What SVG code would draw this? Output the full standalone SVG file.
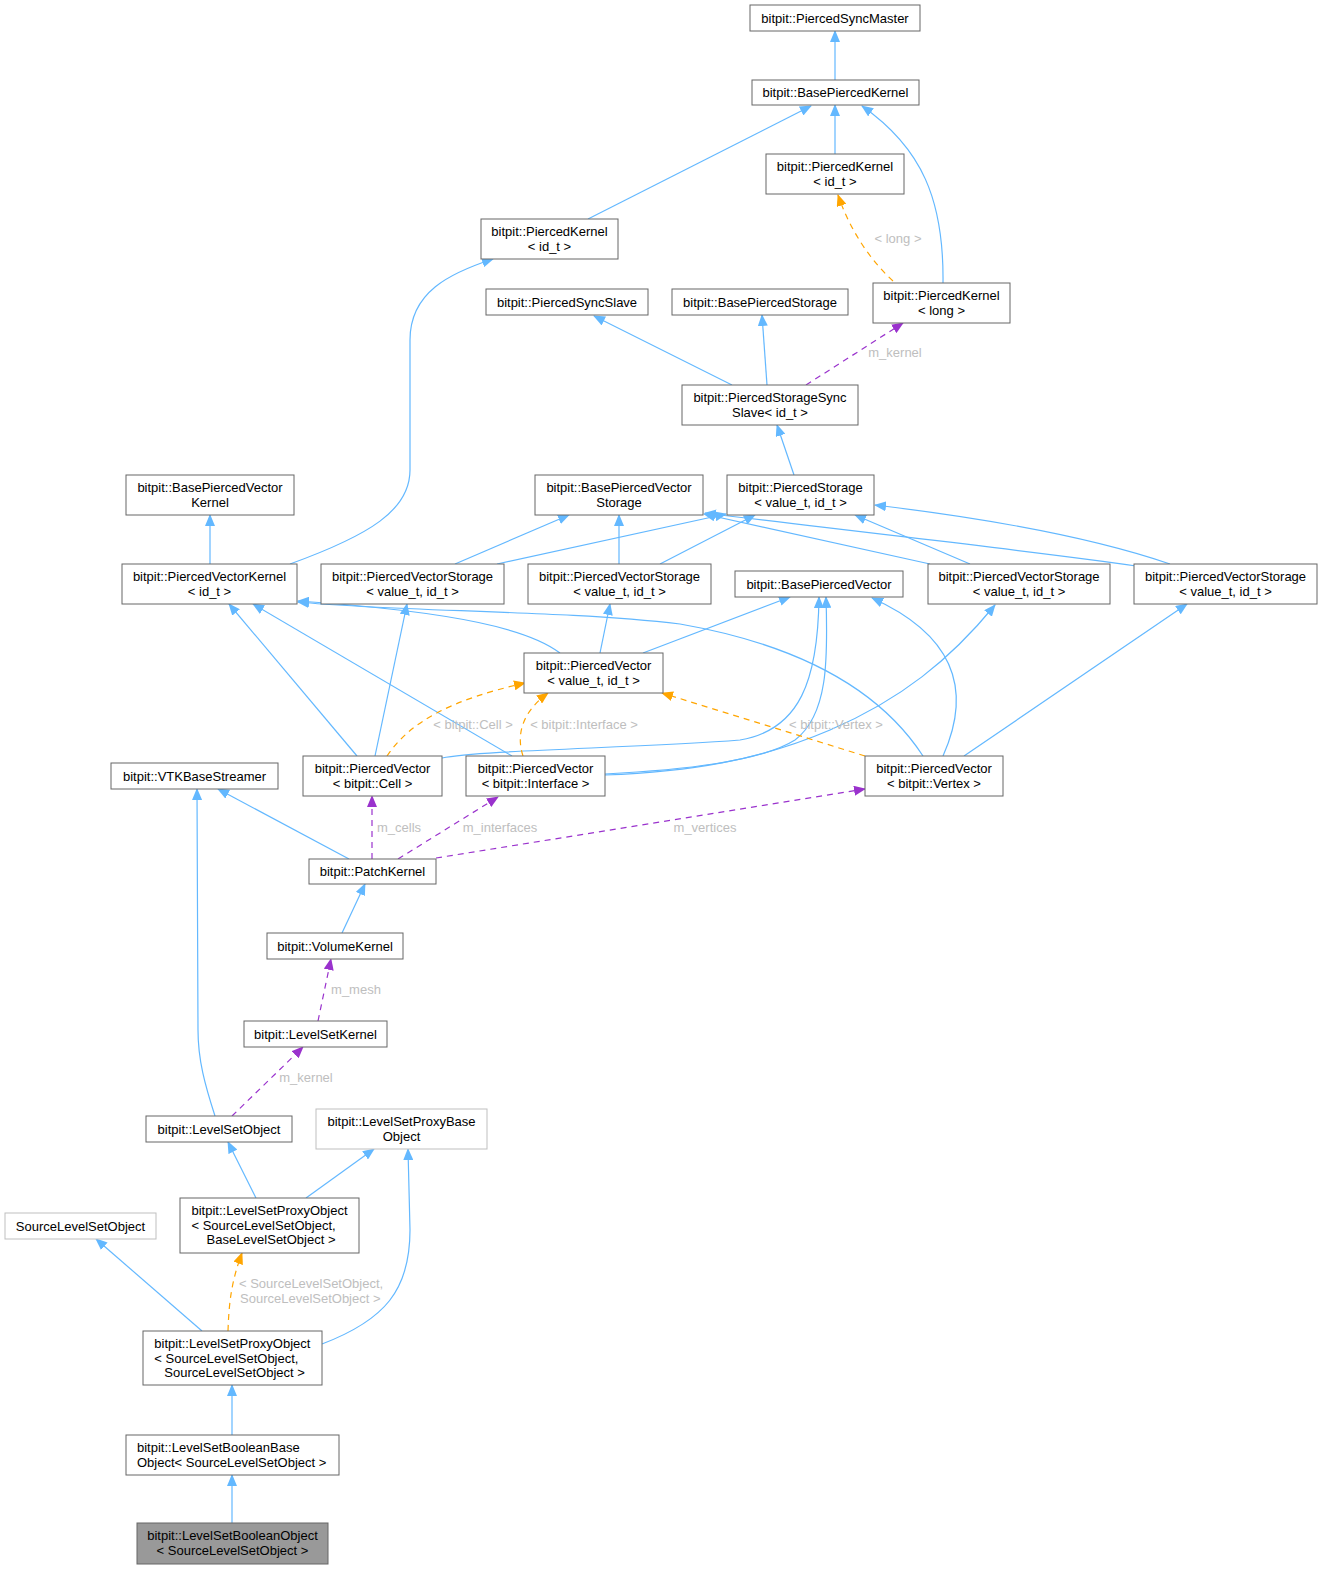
<svg xmlns="http://www.w3.org/2000/svg" width="1323" height="1569" viewBox="0 0 1323 1569">
<style>
.node rect{fill:#ffffff;stroke:#666666;stroke-width:1}
.node.undoc rect{stroke:#bfbfbf}
.node.target rect{fill:#999999;stroke:#666666}
.node text{font-family:"Liberation Sans",Arial,Helvetica,sans-serif;font-size:13px;fill:#000000}
.c{text-anchor:middle}
.l{text-anchor:start}
.e{fill:none;stroke-width:1.2}
.b{stroke:#63b8ff;marker-end:url(#ab)}
.o{stroke:#ffa500;stroke-dasharray:6,5;marker-end:url(#ao)}
.p{stroke:#9a32cd;stroke-dasharray:6,5;marker-end:url(#ap)}
.lab{font-family:"Liberation Sans",Arial,Helvetica,sans-serif;font-size:13px;fill:#bebebe}
</style>
<defs>
<marker id="ab" viewBox="0 0 12 10" refX="11" refY="5" markerWidth="12" markerHeight="10" markerUnits="userSpaceOnUse" orient="auto"><path d="M0,0 L12,5 L0,10 z" fill="#63b8ff"/></marker>
<marker id="ao" viewBox="0 0 12 10" refX="11" refY="5" markerWidth="12" markerHeight="10" markerUnits="userSpaceOnUse" orient="auto"><path d="M0,0 L12,5 L0,10 z" fill="#ffa500"/></marker>
<marker id="ap" viewBox="0 0 12 10" refX="11" refY="5" markerWidth="12" markerHeight="10" markerUnits="userSpaceOnUse" orient="auto"><path d="M0,0 L12,5 L0,10 z" fill="#9a32cd"/></marker>
</defs>
<rect x="0" y="0" width="1323" height="1569" fill="#ffffff"/>
<g id="edges">
<path class="e b" d="M835,80 L835,31"/>
<path class="e b" d="M835,154 L835,105"/>
<path class="e b" d="M588,219 L811,106"/>
<path class="e b" d="M943,283 C944,200 922,148 862,106"/>
<path class="e b" d="M732,385 L594,316"/>
<path class="e b" d="M767,385 L762,315"/>
<path class="e b" d="M794,475 L777,425"/>
<path class="e o" d="M893,281 C870,260 850,230 838,195"/>
<path class="e p" d="M806,385 L903,323"/>
<path class="e b" d="M210,564 L210,515"/>
<path class="e b" d="M290,564 C370,535 410,510 410,470 L410,340 C410,292 450,273 493,259"/>
<path class="e b" d="M455,564 L569,515"/>
<path class="e b" d="M497,564 L726,514"/>
<path class="e b" d="M619,564 L619,515"/>
<path class="e b" d="M660,564 L755,515"/>
<path class="e b" d="M930,564 L704,514"/>
<path class="e b" d="M970,564 L855,515"/>
<path class="e b" d="M1136,566 C1050,553 900,537 705,513"/>
<path class="e b" d="M1170,564 C1100,540 1000,520 875,505"/>
<path class="e b" d="M600,653 L610,604"/>
<path class="e b" d="M643,653 L790,597"/>
<path class="e b" d="M560,653 C530,630 460,612 298,601"/>
<path class="e b" d="M357,756 L229,604"/>
<path class="e b" d="M375,756 L407,604"/>
<path class="e b" d="M442,758 C480,750 640,748 740,740 C800,730 818,680 819,597"/>
<path class="e b" d="M512,756 L253,604"/>
<path class="e b" d="M605,774 C680,770 760,762 795,740 C828,715 828,660 826,597"/>
<path class="e b" d="M605,775 C690,772 760,760 830,730 C900,700 950,660 995,605"/>
<path class="e b" d="M923,756 C880,690 800,645 680,624 C560,610 400,612 298,602"/>
<path class="e b" d="M943,756 C968,700 965,640 872,598"/>
<path class="e b" d="M964,756 L1187,604"/>
<path class="e o" d="M865,756 L662,693"/>
<path class="e o" d="M387,756 C410,722 450,700 525,683"/>
<path class="e o" d="M523,756 C516,735 522,712 548,693"/>
<path class="e b" d="M349,859 L218,789"/>
<path class="e p" d="M372,859 L372,796"/>
<path class="e p" d="M398,859 L498,797"/>
<path class="e p" d="M436,858 L865,789"/>
<path class="e b" d="M342,933 L365,884"/>
<path class="e p" d="M318,1021 L331,959"/>
<path class="e p" d="M232,1116 L303,1047"/>
<path class="e b" d="M215,1116 C205,1085 198,1060 198,1030 L197,789"/>
<path class="e b" d="M256,1198 L228,1142"/>
<path class="e b" d="M306,1198 L374,1149"/>
<path class="e b" d="M322,1344 C385,1320 410,1290 410,1230 L408,1149"/>
<path class="e b" d="M202,1331 L96,1239"/>
<path class="e o" d="M228,1331 C229,1300 232,1280 242,1253"/>
<path class="e b" d="M232,1435 L232,1385"/>
<path class="e b" d="M232,1523 L232,1475"/>
<text class="lab" x="898" y="242.5" text-anchor="middle">&lt; long &gt;</text>
<text class="lab" x="895" y="356.5" text-anchor="middle">m_kernel</text>
<text class="lab" x="836" y="728.5" text-anchor="middle">&lt; bitpit::Vertex &gt;</text>
<text class="lab" x="473" y="728.5" text-anchor="middle">&lt; bitpit::Cell &gt;</text>
<text class="lab" x="584" y="728.5" text-anchor="middle">&lt; bitpit::Interface &gt;</text>
<text class="lab" x="399" y="831.5" text-anchor="middle">m_cells</text>
<text class="lab" x="500" y="831.5" text-anchor="middle">m_interfaces</text>
<text class="lab" x="705" y="831.5" text-anchor="middle">m_vertices</text>
<text class="lab" x="356" y="993.5" text-anchor="middle">m_mesh</text>
<text class="lab" x="306" y="1081.5" text-anchor="middle">m_kernel</text>
<text class="lab" x="239" y="1287.5">&lt; SourceLevelSetObject,</text>
<text class="lab" x="240" y="1302.5"> SourceLevelSetObject &gt;</text>
</g>
<g id="n_PiercedSyncMaster" class="node"><rect x="750" y="5" width="170" height="26"/><text class="c" x="835" y="22.5">bitpit::PiercedSyncMaster</text></g>
<g id="n_BasePiercedKernel" class="node"><rect x="752" y="80" width="167" height="25"/><text class="c" x="835.5" y="97">bitpit::BasePiercedKernel</text></g>
<g id="n_PiercedKernel_idt_r" class="node"><rect x="766" y="154" width="138" height="40"/><text class="c" x="835" y="171">bitpit::PiercedKernel</text><text class="c" x="835" y="186">&lt; id_t &gt;</text></g>
<g id="n_PiercedKernel_idt_l" class="node"><rect x="481" y="219" width="137" height="40"/><text class="c" x="549.5" y="236">bitpit::PiercedKernel</text><text class="c" x="549.5" y="251">&lt; id_t &gt;</text></g>
<g id="n_PiercedSyncSlave" class="node"><rect x="486" y="289" width="162" height="26"/><text class="c" x="567" y="306.5">bitpit::PiercedSyncSlave</text></g>
<g id="n_BasePiercedStorage" class="node"><rect x="672" y="289" width="176" height="26"/><text class="c" x="760" y="306.5">bitpit::BasePiercedStorage</text></g>
<g id="n_PiercedKernel_long" class="node"><rect x="873" y="283" width="137" height="40"/><text class="c" x="941.5" y="300">bitpit::PiercedKernel</text><text class="c" x="941.5" y="315">&lt; long &gt;</text></g>
<g id="n_PiercedStorageSyncSlave" class="node"><rect x="682" y="385" width="176" height="40"/><text class="c" x="770" y="402">bitpit::PiercedStorageSync</text><text class="c" x="770" y="417">Slave&lt; id_t &gt;</text></g>
<g id="n_BasePiercedVectorKernel" class="node"><rect x="126" y="475" width="168" height="40"/><text class="c" x="210" y="492">bitpit::BasePiercedVector</text><text class="c" x="210" y="507">Kernel</text></g>
<g id="n_BasePiercedVectorStorage" class="node"><rect x="535" y="475" width="168" height="40"/><text class="c" x="619" y="492">bitpit::BasePiercedVector</text><text class="c" x="619" y="507">Storage</text></g>
<g id="n_PiercedStorage" class="node"><rect x="727" y="475" width="147" height="40"/><text class="c" x="800.5" y="492">bitpit::PiercedStorage</text><text class="c" x="800.5" y="507">&lt; value_t, id_t &gt;</text></g>
<g id="n_PiercedVectorKernel" class="node"><rect x="122" y="564" width="175" height="40"/><text class="c" x="209.5" y="581">bitpit::PiercedVectorKernel</text><text class="c" x="209.5" y="596">&lt; id_t &gt;</text></g>
<g id="n_PiercedVectorStorage_1" class="node"><rect x="321" y="564" width="183" height="40"/><text class="c" x="412.5" y="581">bitpit::PiercedVectorStorage</text><text class="c" x="412.5" y="596">&lt; value_t, id_t &gt;</text></g>
<g id="n_PiercedVectorStorage_2" class="node"><rect x="528" y="564" width="183" height="40"/><text class="c" x="619.5" y="581">bitpit::PiercedVectorStorage</text><text class="c" x="619.5" y="596">&lt; value_t, id_t &gt;</text></g>
<g id="n_BasePiercedVector" class="node"><rect x="735" y="571" width="168" height="26"/><text class="c" x="819" y="588.5">bitpit::BasePiercedVector</text></g>
<g id="n_PiercedVectorStorage_3" class="node"><rect x="928" y="564" width="182" height="40"/><text class="c" x="1019" y="581">bitpit::PiercedVectorStorage</text><text class="c" x="1019" y="596">&lt; value_t, id_t &gt;</text></g>
<g id="n_PiercedVectorStorage_4" class="node"><rect x="1134" y="564" width="183" height="40"/><text class="c" x="1225.5" y="581">bitpit::PiercedVectorStorage</text><text class="c" x="1225.5" y="596">&lt; value_t, id_t &gt;</text></g>
<g id="n_PiercedVector_value" class="node"><rect x="524" y="653" width="139" height="40"/><text class="c" x="593.5" y="670">bitpit::PiercedVector</text><text class="c" x="593.5" y="685">&lt; value_t, id_t &gt;</text></g>
<g id="n_PiercedVector_Cell" class="node"><rect x="303" y="756" width="139" height="40"/><text class="c" x="372.5" y="773">bitpit::PiercedVector</text><text class="c" x="372.5" y="788">&lt; bitpit::Cell &gt;</text></g>
<g id="n_PiercedVector_Interface" class="node"><rect x="466" y="756" width="139" height="40"/><text class="c" x="535.5" y="773">bitpit::PiercedVector</text><text class="c" x="535.5" y="788">&lt; bitpit::Interface &gt;</text></g>
<g id="n_PiercedVector_Vertex" class="node"><rect x="865" y="756" width="138" height="40"/><text class="c" x="934" y="773">bitpit::PiercedVector</text><text class="c" x="934" y="788">&lt; bitpit::Vertex &gt;</text></g>
<g id="n_VTKBaseStreamer" class="node"><rect x="111" y="763" width="167" height="26"/><text class="c" x="194.5" y="780.5">bitpit::VTKBaseStreamer</text></g>
<g id="n_PatchKernel" class="node"><rect x="309" y="859" width="127" height="25"/><text class="c" x="372.5" y="876">bitpit::PatchKernel</text></g>
<g id="n_VolumeKernel" class="node"><rect x="267" y="933" width="136" height="26"/><text class="c" x="335" y="950.5">bitpit::VolumeKernel</text></g>
<g id="n_LevelSetKernel" class="node"><rect x="244" y="1021" width="143" height="26"/><text class="c" x="315.5" y="1038.5">bitpit::LevelSetKernel</text></g>
<g id="n_LevelSetObject" class="node"><rect x="146" y="1116" width="146" height="26"/><text class="c" x="219" y="1133.5">bitpit::LevelSetObject</text></g>
<g id="n_LevelSetProxyBaseObject" class="node undoc"><rect x="316" y="1109" width="171" height="40"/><text class="c" x="401.5" y="1126">bitpit::LevelSetProxyBase</text><text class="c" x="401.5" y="1141">Object</text></g>
<g id="n_LevelSetProxyObject_SB" class="node"><rect x="180" y="1198" width="179" height="55"/><text class="l" x="191.5" y="1215">bitpit::LevelSetProxyObject</text><text class="l" x="191.5" y="1229.5">&lt; SourceLevelSetObject,</text><text class="l" x="206.5" y="1244">BaseLevelSetObject &gt;</text></g>
<g id="n_SourceLevelSetObject" class="node undoc"><rect x="5" y="1213" width="151" height="26"/><text class="c" x="80.5" y="1230.5">SourceLevelSetObject</text></g>
<g id="n_LevelSetProxyObject_SS" class="node"><rect x="143" y="1331" width="179" height="54"/><text class="l" x="154.3" y="1348">bitpit::LevelSetProxyObject</text><text class="l" x="154.3" y="1362.5">&lt; SourceLevelSetObject,</text><text class="l" x="164.3" y="1377">SourceLevelSetObject &gt;</text></g>
<g id="n_LevelSetBooleanBaseObject" class="node"><rect x="126" y="1435" width="213" height="40"/><text class="l" x="137" y="1452">bitpit::LevelSetBooleanBase</text><text class="l" x="137" y="1467">Object&lt; SourceLevelSetObject &gt;</text></g>
<g id="n_LevelSetBooleanObject" class="node target"><rect x="137" y="1523" width="191" height="41"/><text class="c" x="232.5" y="1540">bitpit::LevelSetBooleanObject</text><text class="c" x="232.5" y="1555">&lt; SourceLevelSetObject &gt;</text></g>
</svg>
